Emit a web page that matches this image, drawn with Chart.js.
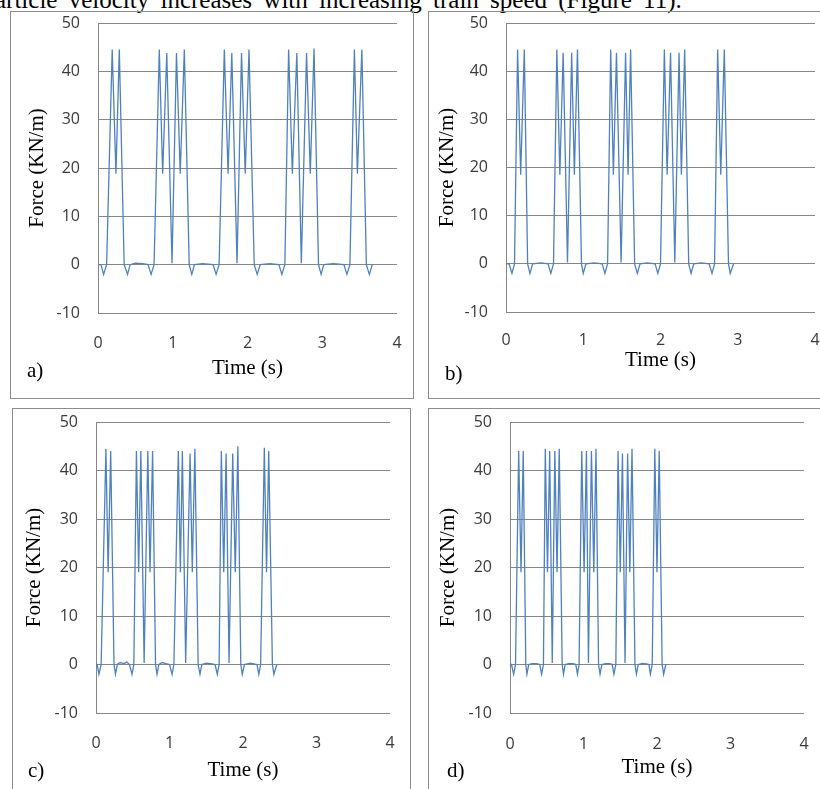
<!DOCTYPE html>
<html>
<head>
<meta charset="utf-8">
<script src="https://cdn.jsdelivr.net/npm/chart.js@4.4.1/dist/chart.umd.min.js"></script>
<style>
  html, body { margin: 0; padding: 0; background: #fff; }
  body { width: 820px; height: 789px; position: relative; overflow: hidden; }
  .frame { position: absolute; border: 1px solid #8c8c8c; box-sizing: border-box; }
  canvas { position: absolute; }
  .tag { position: absolute; font-family: "Liberation Serif", "Times New Roman", serif; font-size: 21px; line-height: 22px; color: #000; }
  .topline { position: absolute; left: -5px; top: -13px; white-space: nowrap; font-family: "Liberation Serif", "Times New Roman", serif; font-size: 25px; line-height: 25px; word-spacing: 5px; color: #000; }
</style>
</head>
<body>
<div class="topline">article velocity increases with increasing train speed (Figure 11).</div>

<div class="frame" style="left:10px;top:11px;width:404px;height:388px;"></div>
<div class="frame" style="left:428px;top:11px;width:400px;height:388px;"></div>
<div class="frame" style="left:12px;top:408px;width:399px;height:400px;"></div>
<div class="frame" style="left:428px;top:408px;width:400px;height:400px;"></div>

<canvas id="ca" width="399" height="372" style="left:8px;top:11px;"></canvas>
<canvas id="cb" width="404" height="371" style="left:416px;top:11px;"></canvas>
<canvas id="cc" width="394" height="373" style="left:6px;top:410px;"></canvas>
<canvas id="cd" width="394" height="373" style="left:420px;top:410px;"></canvas>

<div class="tag" style="left:27px;top:359px;">a)</div>
<div class="tag" style="left:445px;top:362px;">b)</div>
<div class="tag" style="left:28px;top:759px;">c)</div>
<div class="tag" style="left:447px;top:759px;">d)</div>

<script>
// ---- data ----
const yTicks = [-10, 0, 10, 20, 30, 40, 50];
const xTicks = [0, 1, 2, 3, 4];
const xTitle = "Time (s)";
const yTitle = "Force (KN/m)";

const timeA = [0,0.04,0.075,0.115,0.19,0.24,0.285,0.35,0.395,0.43,0.5,0.6,0.67,0.71,0.75,0.82,0.865,0.92,0.99,1.05,1.10,1.155,1.22,1.255,1.29,1.4,1.54,1.58,1.62,1.69,1.74,1.79,1.86,1.92,1.97,2.02,2.09,2.13,2.17,2.3,2.42,2.46,2.50,2.55,2.60,2.66,2.72,2.79,2.84,2.89,2.95,2.985,3.02,3.15,3.29,3.33,3.37,3.43,3.47,3.53,3.59,3.63,3.67];
const forceA = [0,0,-2,0,44.5,18.8,44.5,0,-2,0,0.3,0.2,0,-2,0,44.5,18.8,43.8,0.3,43.8,18.8,44.5,0,-2,0,0.2,0,-2,0,44.5,18.8,43.8,0.3,43.8,18.8,44.5,0,-2,0,0.2,0,-2,0,44.5,18.8,43.8,0.3,43.8,18.8,44.7,0,-2,0,0.2,0,-2,0,44.5,18.8,44.5,0,-2,0];

const timeB = [0,0.04,0.077,0.11,0.15,0.19,0.237,0.28,0.31,0.345,0.45,0.545,0.58,0.615,0.658,0.697,0.74,0.796,0.85,0.885,0.925,0.977,1.0,1.035,1.14,1.245,1.28,1.315,1.355,1.39,1.43,1.49,1.548,1.58,1.613,1.665,1.70,1.735,1.83,1.93,1.965,2.0,2.05,2.086,2.13,2.185,2.24,2.27,2.313,2.365,2.396,2.43,2.53,2.63,2.667,2.70,2.74,2.78,2.826,2.88,2.903,2.946];
const forceB = [0,0,-2,0,44.5,18.5,44.5,0,-2,0,0.2,0,-2,0,44.5,18.5,43.8,0.3,43.8,18.5,44.5,0,-2,0,0.2,0,-2,0,44.5,18.5,43.8,0.3,43.8,18.5,44.5,0,-2,0,0.2,0,-2,0,44.5,18.5,43.8,0.3,43.8,18.5,44.5,0,-2,0,0.2,0,-2,0,44.5,18.5,44.5,0,-2,0];

const timeC = [0,0.015,0.04,0.07,0.135,0.165,0.2,0.245,0.265,0.29,0.33,0.38,0.42,0.455,0.49,0.515,0.55,0.58,0.61,0.655,0.705,0.735,0.77,0.81,0.83,0.855,0.9,0.95,1.0,1.035,1.06,1.12,1.148,1.175,1.22,1.28,1.31,1.345,1.39,1.415,1.44,1.5,1.56,1.62,1.65,1.675,1.705,1.738,1.77,1.81,1.86,1.895,1.93,1.97,1.99,2.02,2.1,2.19,2.215,2.24,2.29,2.32,2.35,2.4,2.42,2.46];
const forceC = [0,0,-2,0,44.5,19,44,0,-2,0,0.4,0.2,0.5,0,-2,0,44,19,44,0.3,44,19,44,0,-2,0,0.4,0.2,0,-2,0,44,19,44,0.3,43.5,19,44.5,0,-2,0,0.3,0.2,0,-2,0,44,19,43.5,0.3,43.5,19,45,0,-2,0,0.3,0,-2,0,44.7,19,44,0,-2,0];

const timeD = [0,0.02,0.05,0.075,0.118,0.15,0.18,0.215,0.23,0.255,0.3,0.36,0.405,0.43,0.455,0.48,0.51,0.54,0.575,0.61,0.64,0.67,0.71,0.728,0.75,0.8,0.86,0.895,0.918,0.94,0.976,1.008,1.04,1.067,1.108,1.14,1.17,1.205,1.225,1.25,1.3,1.36,1.39,1.414,1.44,1.47,1.5,1.53,1.565,1.6,1.63,1.66,1.7,1.72,1.745,1.8,1.86,1.89,1.91,1.935,1.97,2.0,2.03,2.07,2.09,2.12];
const forceD = [0,0,-2,0,44,19,44,0,-2,0,0.2,0.2,0,-2,0,44.5,19,44,0.3,44,19,44.5,0,-2,0,0.2,0.2,0,-2,0,44,19,44,0.3,44,19,44.5,0,-2,0,0.2,0.2,0,-2,0,44,19,43.5,0.3,43.5,19,44.5,0,-2,0,0.2,0.1,0,-2,0,44.5,19,44,0,-2,0];

// ---- chart construction ----
const LINE = '#4f81bd';
const GRID = '#868686';
const tickFont = { family: '"Open Sans", "Liberation Sans", sans-serif', size: 16 };
const titleFont = { family: '"Liberation Serif", "Times New Roman", serif', size: 21, lineHeight: 1 };

function zeroPad(s) { s.paddingTop = 0; s.paddingBottom = 0; s.paddingLeft = 0; s.paddingRight = 0; }

function makeChart(id, times, forces, cfg) {
  const pts = times.map((t, i) => ({ x: t, y: forces[i] }));
  new Chart(document.getElementById(id), {
    type: 'line',
    data: { datasets: [{ data: pts, borderColor: LINE, borderWidth: 1.3, pointRadius: 0, tension: 0, fill: false }] },
    options: {
      responsive: false,
      animation: false,
      devicePixelRatio: 1,
      layout: { autoPadding: false, padding: { left: 0, top: 12, right: cfg.right, bottom: 0 } },
      plugins: { legend: { display: false }, tooltip: { enabled: false } },
      scales: {
        x: {
          type: 'linear', min: xTicks[0], max: xTicks[xTicks.length - 1],
          afterBuildTicks: s => { s.ticks = xTicks.map(v => ({ value: v })); },
          afterFit: s => { s.height = 70; zeroPad(s); },
          grid: { display: false, drawTicks: false },
          border: { display: false },
          ticks: { font: tickFont, color: '#3a3a3a', padding: cfg.xPad, maxRotation: 0 },
          title: { display: true, text: xTitle, font: titleFont, color: '#000', padding: { top: 0, bottom: cfg.xTitlePad } }
        },
        y: {
          type: 'linear', min: yTicks[0], max: yTicks[yTicks.length - 1],
          afterBuildTicks: s => { s.ticks = yTicks.map(v => ({ value: v })); },
          afterFit: s => { s.width = 90; zeroPad(s); },
          grid: { color: GRID, lineWidth: 1, drawTicks: false },
          border: { display: true, color: GRID, width: 1 },
          ticks: { font: tickFont, color: '#3a3a3a', padding: 18 },
          title: { display: true, text: yTitle, font: titleFont, color: '#000', padding: { top: cfg.yTitlePad, bottom: 0 } }
        }
      }
    }
  });
}

makeChart('ca', timeA, forceA, { right: 10, xPad: 21, xTitlePad: 4.5, yTitlePad: 18.5 });
makeChart('cb', timeB, forceB, { right: 5, xPad: 19, xTitlePad: 11.5, yTitlePad: 20.5 });
makeChart('cc', timeC, forceC, { right: 10, xPad: 21, xTitlePad: 2.5, yTitlePad: 17.5 });
makeChart('cd', timeD, forceD, { right: 10, xPad: 22, xTitlePad: 5.5, yTitlePad: 17.5 });
</script>
</body>
</html>
